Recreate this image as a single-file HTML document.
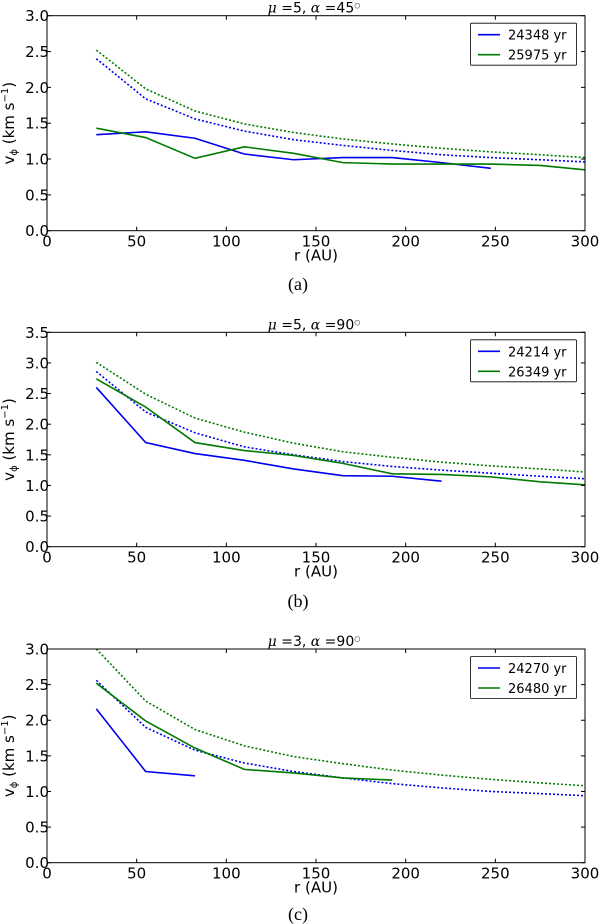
<!DOCTYPE html>
<html><head><meta charset="utf-8">
<style>
html,body{margin:0;padding:0;background:#fff;}
svg{display:block;font-family:"DejaVu Sans","Liberation Sans",sans-serif;}
</style></head>
<body>
<svg id="fig" width="600" height="924" viewBox="0 0 600 924"></svg>
<script>
const xs = [27.5,55,82.5,110,137.5,165,192.5,220,247.5,275,300];
const xTicks = [0,50,100,150,200,250,300];
const panelMu = ["5","5","3"];
const panelAlpha = ["45","90","90"];
const panelCaps = ["(a)","(b)","(c)"];
const panelYMax = [3.0,3.5,3.0];
const legendA = ["24348 yr","25975 yr"];
const legendB = ["24214 yr","26349 yr"];
const legendC = ["24270 yr","26480 yr"];
const aBlue = [1.34,1.38,1.29,1.07,0.99,1.02,1.02,0.95,0.87];
const aGreen = [1.43,1.30,1.01,1.17,1.08,0.95,0.93,0.93,0.93,0.91,0.85];
const aBlueDot = [2.40,1.84,1.56,1.39,1.27,1.19,1.12,1.06,1.02,0.99,0.96];
const aGreenDot = [2.52,1.98,1.67,1.49,1.37,1.28,1.21,1.15,1.10,1.06,1.02];
const bBlue = [2.60,1.70,1.52,1.41,1.27,1.16,1.15,1.07];
const bGreen = [2.74,2.28,1.70,1.57,1.49,1.36,1.19,1.18,1.14,1.06,1.01];
const bBlueDot = [2.86,2.20,1.86,1.63,1.50,1.39,1.31,1.25,1.20,1.15,1.11];
const bGreenDot = [3.01,2.49,2.10,1.87,1.69,1.55,1.46,1.38,1.32,1.27,1.22];
const cBlue = [2.16,1.28,1.22];
const cGreen = [2.52,1.99,1.61,1.31,1.26,1.19,1.16];
const cBlueDot = [2.56,1.90,1.58,1.40,1.28,1.19,1.11,1.05,1.00,0.97,0.94];
const cGreenDot = [3.00,2.27,1.87,1.64,1.49,1.39,1.30,1.23,1.17,1.12,1.08];

const NS="http://www.w3.org/2000/svg";
const svg=document.getElementById('fig');
function mk(tag,attrs,parent,text){const e=document.createElementNS(NS,tag);for(const k in attrs)e.setAttribute(k,attrs[k]);if(text!==undefined)e.textContent=text;(parent||svg).appendChild(e);return e;}
const BLUE="#0000ee", GREEN="#007a00";
const layout=[{top:15.7,bot:230.7,cap:283},{top:332.3,bot:546.7,cap:600},{top:649,bot:862.7,cap:913}];
const series=[[aBlue,aGreen,aBlueDot,aGreenDot,legendA],[bBlue,bGreen,bBlueDot,bGreenDot,legendB],[cBlue,cGreen,cBlueDot,cGreenDot,legendC]];
const X0=47,X1=585;
layout.forEach((L,i)=>{
  const g=mk('g',{});
  
  
  const ymax=panelYMax[i];
  const sx=v=>X0+(v/300)*(X1-X0);
  const sy=v=>L.bot-(v/ymax)*(L.bot-L.top);
  const t=mk('text',{x:314,y:L.top-3,'text-anchor':'middle','font-size':14},g);
  
  mk('tspan',{'font-style':'italic','font-family':'DejaVu Serif, serif'},t,'μ');
  mk('tspan',{},t,' =' + panelMu[i] + ', ');
  mk('tspan',{'font-style':'italic','font-family':'DejaVu Serif, serif'},t,'α');
  mk('tspan',{},t,' =' + panelAlpha[i]);
  mk('tspan',{'font-size':7,dy:-5},t,'○');
  const [sb,sg,db,dg,leg]=series[i];
  const draw=(arr,col,dash,nm)=>{
    const p=mk('polyline',{points:arr.map((v,k)=>sx(xs[k])+','+sy(v)).join(' '),fill:'none',stroke:col,'stroke-width':1.6,'stroke-dasharray':dash||'none'},g);
    
  };
  draw(db,BLUE,'2,2','blue-dotted-line');
  draw(dg,GREEN,'2,2','green-dotted-line');
  draw(sb,BLUE,null,'blue-solid-line');
  draw(sg,GREEN,null,'green-solid-line');
  const fr=mk('rect',{x:X0,y:L.top,width:X1-X0,height:L.bot-L.top,fill:'none',stroke:'#000','stroke-width':1},g);
  
  xTicks.forEach(v=>{
    mk('line',{x1:sx(v),x2:sx(v),y1:L.bot,y2:L.bot-4,stroke:'#000'},g);
    mk('line',{x1:sx(v),x2:sx(v),y1:L.top,y2:L.top+4,stroke:'#000'},g);
    const tl=mk('text',{x:sx(v),y:L.bot+16,'text-anchor':'middle','font-size':15},g,String(v));
    
  });
  for(let v=0;v<=ymax+1e-9;v+=0.5){
    mk('line',{x1:X0,x2:X0+4,y1:sy(v),y2:sy(v),stroke:'#000'},g);
    mk('line',{x1:X1,x2:X1-4,y1:sy(v),y2:sy(v),stroke:'#000'},g);
    const tl=mk('text',{x:X0+2,y:sy(v)+5.5,'text-anchor':'end','font-size':15},g,v.toFixed(1));
    
  }
  const xl=mk('text',{x:316,y:L.bot+30,'text-anchor':'middle','font-size':15},g,'r (AU)');
  
  const cy=(L.top+L.bot)/2;
  const yl=mk('text',{x:14,y:cy,'text-anchor':'middle','font-size':15,transform:`rotate(-90 14 ${cy})`},g);
  
  mk('tspan',{},yl,'v');mk('tspan',{'font-size':10,dy:3},yl,'ϕ');mk('tspan',{dy:-3},yl,' (km s');mk('tspan',{'font-size':10,dy:-6},yl,'−1');mk('tspan',{dy:6},yl,')');
  const ly=L.top+7;
  const lg=mk('g',{},g);
  
  mk('rect',{x:470.5,y:ly+0.5,width:106,height:42,fill:'#fff',stroke:'#000','stroke-width':0.8,rx:1},lg);
  [BLUE,GREEN].forEach((c,k)=>{
    const yy=ly+12+k*20;
    mk('line',{x1:478,x2:500,y1:yy,y2:yy,stroke:c,'stroke-width':1.6},lg);
    const lt=mk('text',{x:508,y:yy+5,'font-size':13},lg,leg[k]);
    
  });
  const cap=mk('text',{x:298,y:L.cap+7,'text-anchor':'middle','font-size':18,'font-family':'Liberation Serif, serif'},g,panelCaps[i]);
  
});
</script>
</body></html>
